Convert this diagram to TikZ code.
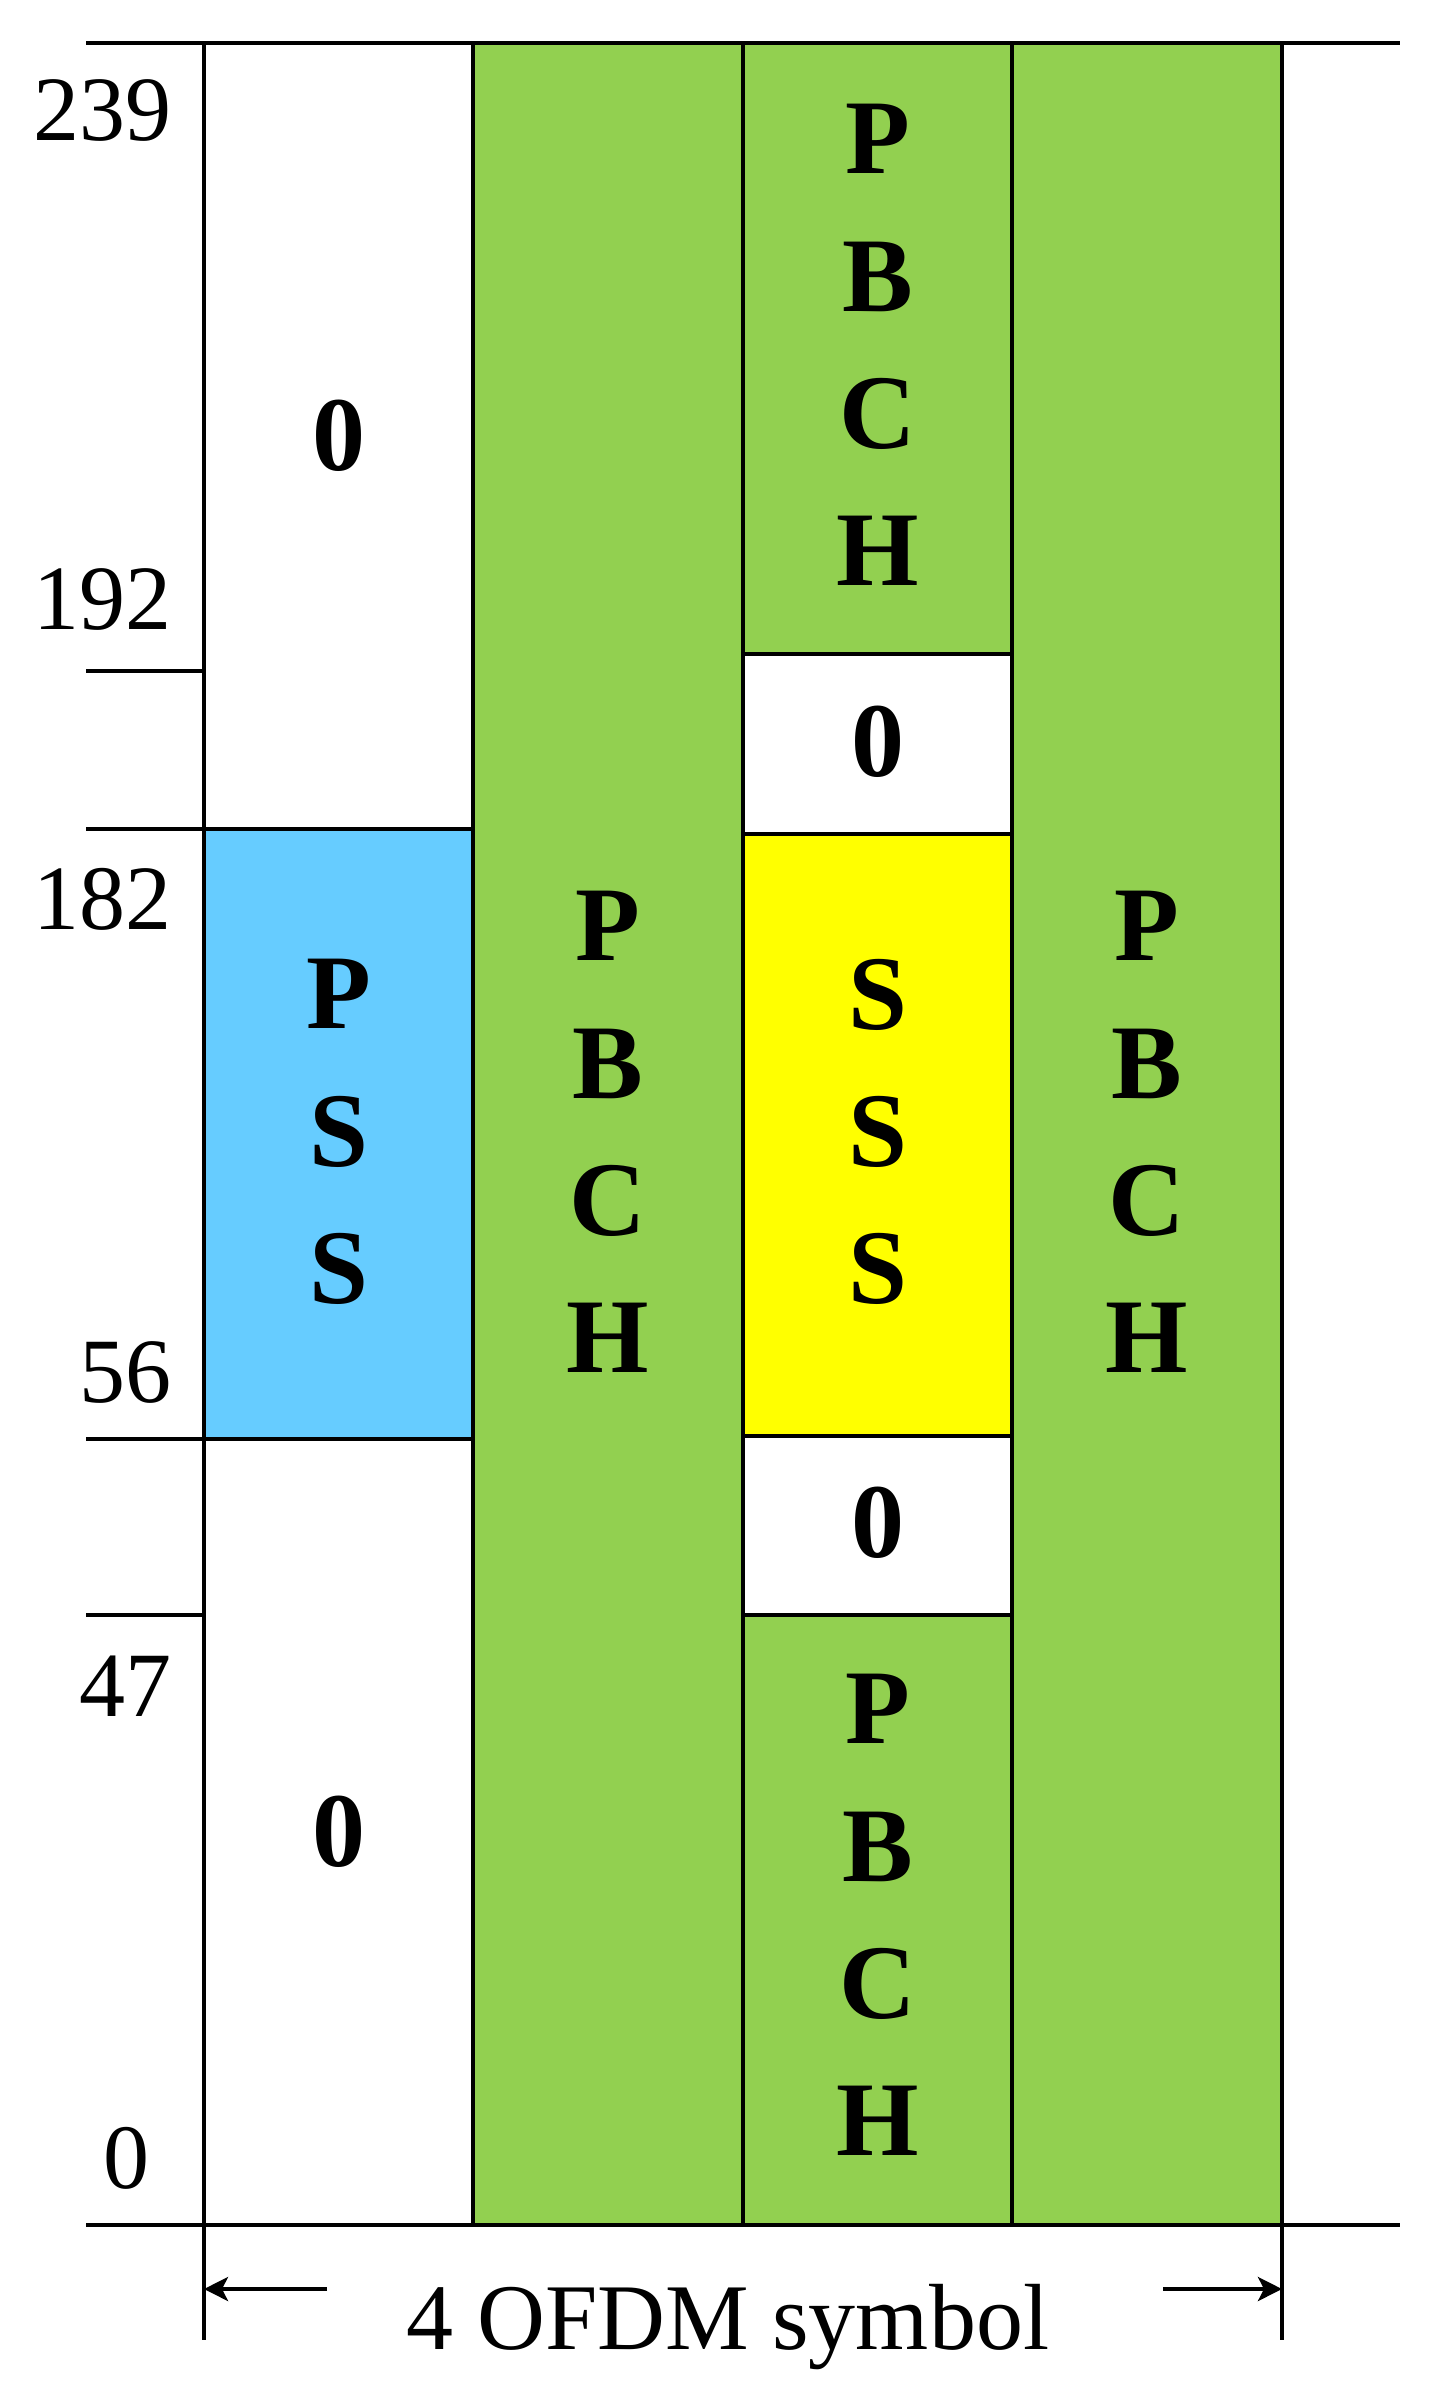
\documentclass[tikz,border=0pt]{standalone}
\usepackage{fontspec}
\setmainfont{Liberation Serif}
\usetikzlibrary{arrows.meta}
\definecolor{pbchgreen}{HTML}{92D050}
\definecolor{pssblue}{HTML}{66CCFF}
\definecolor{sssyellow}{HTML}{FFFF00}
\tikzset{
  cell/.style={draw=black, line width=2pt},
  sym/.style={font=\fontsize{53}{68.7}\selectfont\bfseries, align=center, inner sep=0pt},
  num/.style={font=\fontsize{46}{46}\selectfont, inner sep=0pt},
  axis/.style={line width=2pt},
  dimarrow/.style={axis, -{Stealth[length=12pt,width=12pt,inset=3pt]}},
}
\begin{document}
\begin{tikzpicture}[x=0.5pt, y=-0.5pt]
\useasboundingbox (0,0) rectangle (1437,2408);

% symbol 0
\draw[cell, fill=white] (204,43) rectangle (473,829);
\draw[cell, fill=pssblue] (204,829) rectangle (473,1439);
\draw[cell, fill=white] (204,1439) rectangle (473,2225);
% symbol 1
\draw[cell, fill=pbchgreen] (473,43) rectangle (743,2225);
% symbol 2
\draw[cell, fill=pbchgreen] (743,43) rectangle (1012,654);
\draw[cell, fill=white] (743,654) rectangle (1012,834);
\draw[cell, fill=sssyellow] (743,834) rectangle (1012,1436);
\draw[cell, fill=white] (743,1436) rectangle (1012,1615);
\draw[cell, fill=pbchgreen] (743,1615) rectangle (1012,2225);
% symbol 3
\draw[cell, fill=pbchgreen] (1012,43) rectangle (1282,2225);

% texts in the cells
\node[sym] (zeroA) at (338.5,436) {0};
\node[sym] (pss) at (338.5,1132) {P\\S\\S};
\node[sym] (zeroB) at (338.5,1832) {0};
\node[sym] (pbchA) at (608,1132) {P\\B\\C\\H};
\node[sym] (pbchB) at (877.5,345) {P\\B\\C\\H};
\node[sym] (zeroC) at (877.5,742) {0};
\node[sym] (sss) at (877.5,1132) {S\\S\\S};
\node[sym] (zeroD) at (877.5,1523) {0};
\node[sym] (pbchC) at (877.5,1915) {P\\B\\C\\H};
\node[sym] (pbchD) at (1147,1132) {P\\B\\C\\H};

% frequency axis
\draw[axis] (86,43) -- (1400,43);
\draw[axis] (86,2225) -- (1400,2225);
\draw[axis] (86,671) -- (204,671);
\draw[axis] (86,829) -- (204,829);
\draw[axis] (86,1439) -- (204,1439);
\draw[axis] (86,1615) -- (204,1615);

\node[num, anchor=base east] (n239) at (172,141) {239};
\node[num, anchor=base east] (n192) at (172,629) {192};
\node[num, anchor=base east] (n182) at (172,929) {182};
\node[num, anchor=base east] (n56) at (172,1402) {56};
\node[num, anchor=base east] (n47) at (172,1716) {47};
\node[num, anchor=base] (n0) at (126,2188) {0};

% time axis
\coordinate (tl) at (204,2225);
\coordinate (tr) at (1282,2225);
\draw[axis] (tl) -- (204,2340);
\draw[axis] (tr) -- (1282,2340);
\coordinate (al) at (204,2289);
\coordinate (ar) at (1282,2289);
\coordinate (sl) at (327,2289);
\coordinate (sr) at (1163,2289);
\draw[dimarrow] (sl) -- (al);
\draw[dimarrow] (sr) -- (ar);
\node[num, anchor=base, font=\fontsize{47}{47}\selectfont] (sym) at (728,2349) {4 OFDM symbol};
\end{tikzpicture}
\end{document}
